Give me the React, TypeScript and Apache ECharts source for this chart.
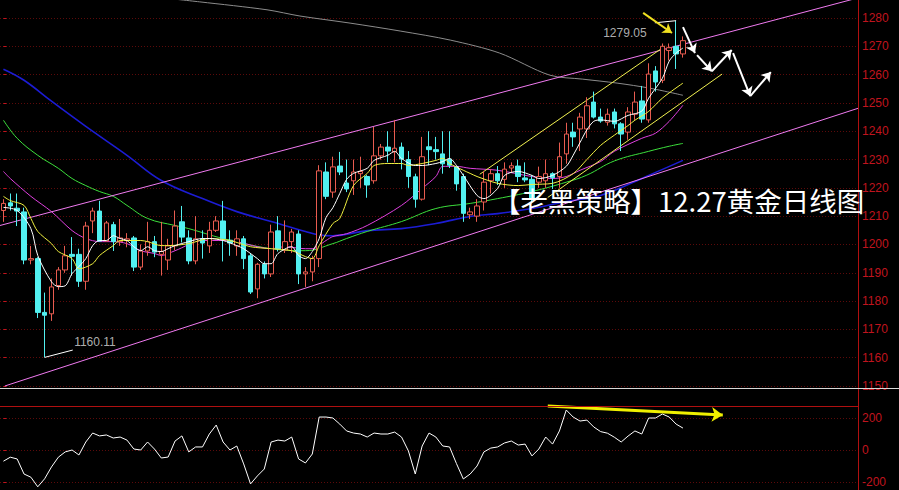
import React, { useEffect, useRef } from 'react';
import * as echarts from 'echarts';

// ---------- data ----------
const SLOTS = 125;
const slotLabels: string[] = Array.from({ length: SLOTS }, (_, i) => String(i + 1));

// [open, close, low, high]
const candles: number[][] = [
  [1212, 1214.5, 1208, 1216], [1214.7, 1213.6, 1212, 1218], [1212.8, 1211.8, 1206.5, 1218], [1211.5, 1194.5, 1193, 1213],
  [1194.5, 1195, 1193, 1199.5], [1195, 1176, 1174, 1195.5], [1176, 1175, 1160.11, 1183], [1175.5, 1185, 1173, 1188],
  [1185.5, 1191, 1184, 1192], [1191, 1196, 1190, 1199.5], [1196.5, 1195.8, 1189, 1202.6], [1196.5, 1187, 1185, 1198.5],
  [1187, 1206.5, 1184, 1208], [1208.3, 1211.8, 1204, 1213], [1211.8, 1201.2, 1201, 1215.4], [1201.2, 1207.6, 1201, 1208.3],
  [1207, 1201, 1197.7, 1208], [1201, 1202.3, 1199.5, 1209], [1201.5, 1202, 1199, 1204], [1202.3, 1192, 1190.6, 1203],
  [1192, 1197.7, 1191, 1200], [1197.7, 1201, 1196, 1208], [1201, 1197.3, 1195.5, 1203], [1196.5, 1197.5, 1189, 1208],
  [1194.5, 1199.5, 1191, 1202], [1199.5, 1206.5, 1198, 1212], [1208, 1202.6, 1200.7, 1213.6], [1202.3, 1194.2, 1193, 1205],
  [1194.2, 1202, 1193, 1210], [1202, 1200.5, 1195, 1205], [1199.5, 1205, 1197, 1208], [1205, 1208.3, 1204.4, 1210],
  [1208.3, 1202, 1194, 1215.4], [1201.5, 1200.5, 1196, 1205], [1199.5, 1202, 1196, 1205], [1202, 1195, 1191.3, 1203],
  [1196, 1183.2, 1182.5, 1197], [1184.3, 1193, 1181, 1193.5], [1193, 1189.6, 1188, 1194], [1189.6, 1204.4, 1188.5, 1207],
  [1204.8, 1198.4, 1197.5, 1210], [1198, 1201, 1197, 1208.5], [1201, 1204.4, 1197, 1205.5], [1203.7, 1189.6, 1186, 1205],
  [1189.6, 1190.3, 1185, 1192], [1190.3, 1195, 1187, 1196], [1195, 1226, 1192, 1228], [1225.6, 1217, 1216, 1229],
  [1218.5, 1227.4, 1216.5, 1231], [1227.7, 1225.6, 1224.5, 1232.7], [1221.7, 1219.6, 1218.5, 1230], [1222.5, 1225.6, 1217.5, 1230],
  [1225, 1225.8, 1220, 1231], [1224, 1221, 1216.5, 1224.5], [1222.5, 1231.3, 1221.5, 1241.5], [1231.3, 1234.4, 1230, 1235.5],
  [1234.4, 1233, 1229, 1240], [1232.7, 1234, 1229, 1244], [1234.4, 1230.2, 1226.5, 1236], [1230, 1224, 1220, 1233],
  [1223.9, 1216, 1213, 1225], [1216, 1231, 1215.5, 1238], [1234.5, 1233.5, 1228, 1240], [1233.5, 1232.8, 1230, 1238],
  [1232, 1228.5, 1225, 1240], [1230, 1228, 1227, 1240], [1227.4, 1221.4, 1219, 1227.5], [1224, 1211, 1208, 1225],
  [1210.5, 1211.5, 1209, 1213], [1210, 1213.6, 1208, 1216], [1215, 1222, 1212, 1226], [1222.5, 1225, 1218, 1226.6],
  [1225, 1222.5, 1221, 1227.7], [1223, 1226.6, 1220, 1229], [1227, 1227.8, 1225.5, 1229], [1227.7, 1224, 1222, 1230],
  [1223.5, 1222.8, 1222, 1229], [1223, 1216, 1214.5, 1224.5], [1222, 1224, 1220, 1227.5], [1222.5, 1225, 1220, 1230],
  [1225, 1223.6, 1219.6, 1225.5], [1224, 1231, 1220, 1236], [1232, 1239, 1228.5, 1243], [1239.7, 1238, 1234.5, 1243],
  [1240.8, 1245, 1233, 1246.5], [1240.8, 1249, 1237.6, 1252], [1250.3, 1245, 1244.5, 1254], [1245, 1243.6, 1243, 1248],
  [1243.2, 1246, 1242, 1248], [1246.8, 1242.6, 1241, 1248], [1242.6, 1239, 1233, 1243.2], [1239.7, 1246.8, 1237, 1248.5],
  [1246, 1250.3, 1244, 1254], [1250.7, 1244.3, 1243, 1256], [1244, 1260.2, 1243, 1264], [1261.3, 1257.4, 1254, 1263],
  [1258, 1270, 1257, 1271], [1268.5, 1269.5, 1265, 1271], [1270, 1267.3, 1262, 1279.05], [1267.3, 1272, 1266, 1273.5],
];

// moving averages: [slot index, price]
const ma5: number[][] = [
  [0, 1213.1], [2, 1212.0], [4, 1205.6], [5, 1196.1], [7, 1186.8], [8, 1185.1], [9, 1185.4], [10, 1189.7], [11, 1192.2],
  [12, 1195.0], [13, 1199.6], [14, 1201.4], [15, 1201.4], [16, 1203.1], [17, 1202.1], [18, 1201.4], [19, 1199.2], [20, 1197.8],
  [21, 1199.2], [22, 1197.8], [23, 1197.5], [24, 1198.5], [25, 1199.6], [27, 1201.0], [29, 1202.1], [30, 1202.1], [32, 1201.4],
  [34, 1199.6], [35, 1198.5], [37, 1195.0], [38, 1193.2], [39, 1193.2], [40, 1196.8], [42, 1199.2], [43, 1196.1], [44, 1195.0],
  [45, 1197.5], [46, 1202.1], [47, 1209.5], [48, 1213], [49, 1218], [50, 1223], [51, 1225.1], [53, 1226.9], [54, 1229.7],
  [56, 1231.5], [57, 1232.9], [58, 1230.4], [60, 1227.9], [61, 1227.9], [63, 1228.6], [64, 1229.3], [65, 1230.4], [66, 1227.9],
  [67, 1224.4], [69, 1217.3], [70, 1216.2], [72, 1219.8], [73, 1224.4], [75, 1225.8], [77, 1224.4], [78, 1223.3], [80, 1224.4],
  [82, 1227.6], [83, 1231.5], [84, 1236], [85, 1240.5], [86, 1243.5], [87, 1244], [89, 1243.5], [91, 1245.6], [93, 1247.1],
  [94, 1251.7], [96, 1258.7], [97, 1264.8], [98, 1267.6], [99, 1269.4],
];
const ma10: number[][] = [
  [0, 1217], [1, 1215.5], [3, 1213.8], [4, 1209.2], [5, 1204.6], [7, 1200.3], [8, 1197.5], [10, 1195.0], [11, 1191.4],
  [13, 1193.2], [14, 1196.1], [16, 1199.6], [17, 1201.4], [18, 1201.4], [20, 1201.4], [21, 1201.0], [23, 1199.6], [24, 1199.6],
  [27, 1200.3], [30, 1202.1], [33, 1201.4], [36, 1199.2], [39, 1198.5], [42, 1197.8], [44, 1195.7], [45, 1195.0], [46, 1199.6],
  [48, 1207.4], [49, 1209.2], [51, 1220.8], [53, 1225.1], [54, 1227.9], [56, 1228.6], [58, 1228.6], [59, 1227.9], [61, 1228.6],
  [63, 1229.7], [64, 1230.4], [65, 1228.6], [67, 1226.2], [68, 1225.1], [69, 1224.0], [72, 1221.6], [75, 1220.8], [77, 1221.2],
  [80, 1221.6], [83, 1225], [85, 1230], [87, 1235], [89, 1238.6], [91, 1242], [92, 1243.9], [94, 1247], [96, 1251.7], [99, 1257],
];
const ma20: number[][] = [
  [0, 1225.8], [1, 1223.3], [4, 1217.0], [7, 1211.6], [10, 1204.9], [12, 1202.1], [14, 1201.0], [16, 1201.0], [18, 1200.3],
  [20, 1197.8], [22, 1196.8], [23, 1196.1], [25, 1197.8], [29, 1201.4], [32, 1201.4], [34, 1201.0], [37, 1199.2], [39, 1198.5],
  [41, 1199.2], [44, 1198.5], [45, 1198.5], [47, 1201.4], [48, 1202.8], [50, 1203.8], [53, 1206.7], [58, 1213.8], [61, 1219.8],
  [63, 1224.0], [64, 1227.6], [66, 1227.6], [68, 1226.9], [72, 1226.2], [77, 1224.0], [80, 1223.3], [82, 1224.0], [84, 1226.2],
  [87, 1229.3], [89, 1232.9], [93, 1237.5], [95, 1239.3], [97, 1243.5], [99, 1249.2],
];
const ma60: number[][] = [
  [0, 1243.9], [2, 1237.5], [5, 1231.5], [8, 1226.9], [10, 1223.3], [12, 1220.8], [14, 1218.7], [16, 1217.0], [18, 1213.8],
  [21, 1209.2], [25, 1206.7], [27, 1205.6], [32, 1202.1], [39, 1198.5], [44, 1197.8], [48, 1200.3], [50, 1202.1], [53, 1204.6],
  [58, 1208.1], [63, 1212.7], [68, 1214.5], [72, 1216.2], [77, 1218.7], [82, 1222], [85, 1224.5], [89, 1229.5], [94, 1232.9],
  [97, 1234.7], [99, 1235.7],
];
const ma120: number[][] = [
  [0, 1261.9], [3, 1258.0], [7, 1250.6], [12, 1241.7], [18, 1231.5], [23, 1222.6], [29, 1216.2], [34, 1211.6], [39, 1208.1],
  [44, 1204.6], [46, 1203.4], [48, 1203.1], [53, 1204.9], [58, 1205.6], [63, 1207.4], [68, 1209.9], [72, 1210.9], [77, 1212.7],
  [82, 1215.2], [87, 1217.3], [94, 1224.4], [99, 1229.7],
];
const ma250: number[][] = [
  [23.25, 1287.1], [28.6, 1285.7], [38.4, 1282.9], [43.2, 1280.7], [50.5, 1278.2], [57.8, 1275.4], [65.1, 1272.2],
  [72.3, 1267.6], [79.6, 1259.8], [84.4, 1258.4], [89.4, 1257.0], [94.2, 1255.2], [99, 1252.7],
];

// drawn trend lines: [slot index, price]
const upperChannel: number[][] = [[-0.5, 1206.7], [124.5, 1287.1]];
const lowerChannel: number[][] = [[0.2, 1150], [124.5, 1248.1]];
const upperYellow: number[][] = [[69.4, 1224.8], [96.4, 1270.1]];
const lowerYellow: number[][] = [[79.3, 1216.6], [104.7, 1260.2]];

// forecast zigzag arrows
const zigzag: number[][][] = [
  [[99.0, 1276.8], [100.75, 1267.6]],
  [[101.05, 1266.9], [103.2, 1261.2]],
  [[103.2, 1261.2], [106.1, 1268.7]],
  [[106.3, 1267.6], [108.8, 1252.4]],
  [[108.8, 1252.4], [111.8, 1260.9]],
];
const highArrow: number[][] = [[93.2, 1281.8], [97.4, 1274.7]];

// high / low marks
const lowMark = { value: 1160.11, line: [[6, 1160.11], [10.1, 1162.7]], text: [10.3, 1165.5] };
const highMark = { value: 1279.05, line: [[98, 1279.05], [94.9, 1278.3]], text: [93.7, 1274.7] };

// lower indicator panel
const indicator: number[] = [
  -70, -45, -56, -150, -170, -230, -180, -106, -45, -12, 0, -31, 50, 106, 88, 94, 75, 81, 62, 6,
  0, 50, 6, -50, -44, 56, 88, -12, 19, 19, 100, 156, 50, 0, 25, -87, -212, -162, -119, 50,
  62, 56, 81, -56, -81, -25, 206, 206, 200, 162, 119, 106, 100, 81, 106, 100, 100, 112, 81, -6,
  -150, 25, 106, 81, 25, 19, -85, -181, -150, -100, -12, 12, 19, 44, 56, 31, 37, -37, 6, 81,
  37, 119, 250, 206, 181, 187, 144, 115, 105, 80, 50, 87, 119, 100, 200, 200, 225, 206, 162, 137,
];
const indicatorArrow: number[][] = [[79.3, 275], [104.8, 219]];

const priceTicks = { min: 1150, max: 1280, step: 10 };
const indTicks = { min: -200, max: 200, step: 200 };
const title = '【老黑策略】12.27黄金日线图';

// ---------- styles ----------
const RED = '#e85c50';
const CYAN = '#52f0f0';
const AXIS_RED = '#c0141e';
const GRID_RED = '#5c0a0a';

export default function App() {
  const ref = useRef<HTMLDivElement>(null);

  useEffect(() => {
    const chart = echarts.init(ref.current!, undefined, { renderer: 'svg' });

    const maLine = (data: number[][], color: string, width = 1, smooth: number | boolean = 0.3) => ({
      type: 'line',
      xAxisIndex: 1,
      yAxisIndex: 0,
      data,
      showSymbol: false,
      smooth,
      clip: false,
      silent: true,
      lineStyle: { color, width },
      z: 3,
    });

    const yAxisCommon = {
      type: 'value',
      position: 'right',
      axisLine: { show: false },
      axisTick: { show: true, length: 3, lineStyle: { color: AXIS_RED } },
      axisLabel: {
        color: AXIS_RED,
        fontSize: 12,
        margin: 4,
        fontFamily: 'Liberation Sans',
        padding: [5, 0, 0, 0],
        formatter: (v: number) => String(v),
      },
      splitLine: { show: true, lineStyle: { color: GRID_RED, type: [1, 2], width: 1 } },
    };

    chart.setOption({
      animation: false,
      backgroundColor: '#000',
      grid: [
        { left: 0, right: 41, top: 18, height: 368 },
        { left: 0, right: 41, top: 418, height: 64 },
      ],
      xAxis: [
        { type: 'category', gridIndex: 0, data: slotLabels, boundaryGap: true, show: false },
        { type: 'value', gridIndex: 0, min: -0.5, max: SLOTS - 0.5, show: false },
        { type: 'category', gridIndex: 1, data: slotLabels, boundaryGap: true, show: false },
        { type: 'value', gridIndex: 1, min: -0.5, max: SLOTS - 0.5, show: false },
      ],
      yAxis: [
        { ...yAxisCommon, gridIndex: 0, min: priceTicks.min, max: priceTicks.max, interval: priceTicks.step },
        { ...yAxisCommon, gridIndex: 1, min: indTicks.min, max: indTicks.max, interval: indTicks.step },
      ],
      graphic: [
        { type: 'line', shape: { x1: 858.5, y1: 0, x2: 858.5, y2: 490 }, style: { stroke: '#b01010', lineWidth: 1 }, z: 50 },
        { type: 'line', shape: { x1: 0, y1: 388.5, x2: 899, y2: 388.5 }, style: { stroke: '#d8d8d8', lineWidth: 1 }, z: 50 },
        { type: 'line', shape: { x1: 0, y1: 406.5, x2: 858, y2: 406.5 }, style: { stroke: '#b01010', lineWidth: 1 }, z: 50 },
        {
          type: 'text', left: 493, top: 186, z: 60,
          style: { text: title, fill: '#ffffff', font: '27.5px "Noto Sans CJK SC"' },
        },
      ],
      series: [
        maLine(ma250, '#8c8c8c', 1, 0.3),
        maLine(ma120, '#1c1cd4', 1.6, 0.4),
        maLine(ma60, '#3ce03c', 1, 0.4),
        maLine(ma20, '#e040e0', 1, 0.3),
        maLine(upperChannel, '#f07af0', 1, false),
        maLine(lowerChannel, '#f07af0', 1, false),
        maLine(upperYellow, '#f0f050', 1, false),
        maLine(lowerYellow, '#f0f050', 1, false),
        {
          type: 'candlestick',
          xAxisIndex: 0,
          yAxisIndex: 0,
          data: candles,
          barWidth: 5,
          silent: true,
          z: 4,
          itemStyle: { color: '#000000', color0: CYAN, borderColor: RED, borderColor0: CYAN, borderWidth: 1 },
        },
        { ...maLine(ma10, '#f0f040', 1, 0.3), z: 5 },
        { ...maLine(ma5, '#ffffff', 1, 0.3), z: 6 },
        { ...maLine(lowMark.line, '#ffffff', 1, false), z: 7 },
        { ...maLine(highMark.line, '#ffffff', 1, false), z: 7 },
        {
          type: 'scatter',
          xAxisIndex: 1,
          yAxisIndex: 0,
          symbolSize: 0,
          silent: true,
          clip: false,
          z: 8,
          data: [
            { value: lowMark.text, label: { show: true, position: 'right', distance: 0, formatter: () => lowMark.value.toFixed(2) } },
            { value: highMark.text, label: { show: true, position: 'left', distance: 0, formatter: () => highMark.value.toFixed(2) } },
          ],
          label: { color: '#dcdcdc', fontSize: 12, fontFamily: 'Liberation Sans' },
        },
        {
          type: 'lines',
          coordinateSystem: 'cartesian2d',
          xAxisIndex: 1,
          yAxisIndex: 0,
          clip: false,
          silent: true,
          z: 9,
          symbol: ['none', 'arrow'],
          symbolSize: 9,
          lineStyle: { color: '#ffffff', width: 2, opacity: 1, curveness: 0 },
          data: zigzag.map((c) => ({ coords: c })),
        },
        {
          type: 'lines',
          coordinateSystem: 'cartesian2d',
          xAxisIndex: 1,
          yAxisIndex: 0,
          clip: false,
          silent: true,
          z: 9,
          symbol: ['none', 'arrow'],
          symbolSize: 9,
          lineStyle: { color: '#f0e020', width: 2, opacity: 1, curveness: 0 },
          data: [{ coords: highArrow }],
        },
        {
          type: 'line',
          xAxisIndex: 2,
          yAxisIndex: 1,
          data: indicator,
          showSymbol: false,
          clip: false,
          silent: true,
          lineStyle: { color: '#ffffff', width: 1 },
        },
        {
          type: 'lines',
          coordinateSystem: 'cartesian2d',
          xAxisIndex: 3,
          yAxisIndex: 1,
          clip: false,
          silent: true,
          z: 9,
          symbol: ['none', 'arrow'],
          symbolSize: 11,
          lineStyle: { color: '#f0f000', width: 3, opacity: 1, curveness: 0 },
          data: [{ coords: indicatorArrow }],
        },
      ],
    });

    return () => chart.dispose();
  }, []);

  return (
    <div
      ref={ref}
      style={{ position: 'fixed', left: 0, top: 0, width: 899, height: 490, background: '#000' }}
    />
  );
}
